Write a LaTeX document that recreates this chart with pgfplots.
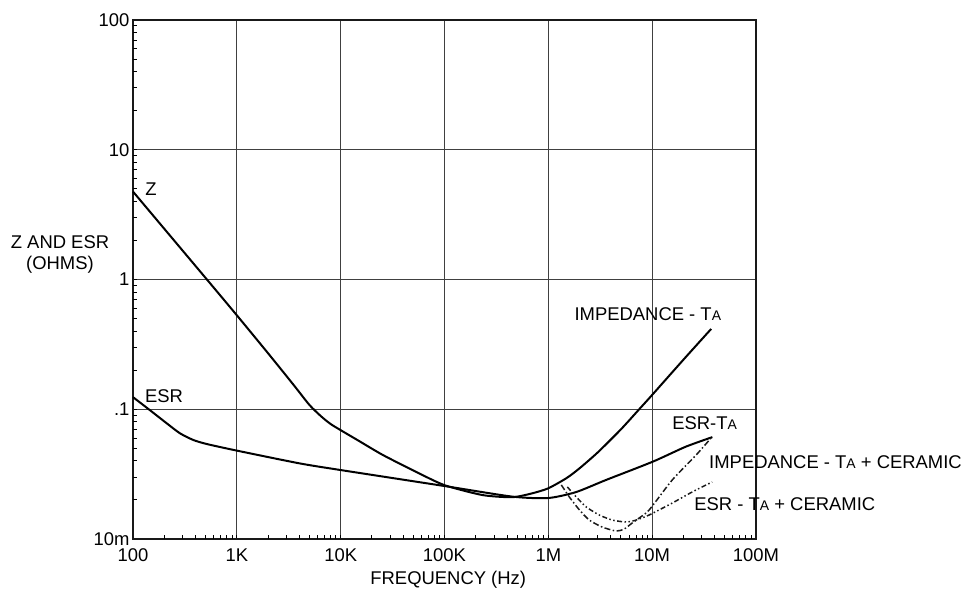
\documentclass[border=0pt]{standalone}
\usepackage{pgfplots}
\pgfplotsset{compat=1.18}
\usepackage{fontspec}
\setmainfont{Liberation Sans}
\newcommand{\sA}{{\fontsize{14}{16}\selectfont A}}
\newcommand{\lf}{\fontsize{18.5}{21}\selectfont}
\begin{document}
\begin{tikzpicture}
\useasboundingbox (-133bp,-53bp) rectangle (835bp,539bp);
\begin{axis}[
  at={(0,0)}, anchor=south west, scale only axis,
  width=623bp, height=519bp,
  xmode=log, ymode=log,
  xmin=100, xmax=1e8, ymin=0.01, ymax=100,
  xtick={100,1000,10000,100000,1000000,10000000,100000000},
  xticklabels={100,1K,10K,100K,1M,10M,100M},
  ytick={0.01,0.1,1,10,100},
  yticklabels={10m,.1,1,10,100},
  extra x ticks={200,300,400,500,600,700,800,900,
    2000,3000,4000,5000,6000,7000,8000,9000,
    20000,30000,40000,50000,60000,70000,80000,90000,
    200000,300000,400000,500000,600000,700000,800000,900000,
    2000000,3000000,4000000,5000000,6000000,7000000,8000000,9000000,
    20000000,30000000,40000000,50000000,60000000,70000000,80000000,90000000},
  extra x tick labels={},
  extra x tick style={grid=none},
  extra y ticks={0.02,0.03,0.04,0.05,0.06,0.07,0.08,0.09,
    0.2,0.3,0.4,0.5,0.6,0.7,0.8,0.9,
    2,3,4,5,6,7,8,9,
    20,30,40,50,60,70,80,90},
  extra y tick labels={},
  extra y tick style={grid=none},
  grid=major,
  major grid style={black!75, line width=1.1pt},
  axis line style={line width=1.5pt, black!90},
  tick pos=left,
  tick align=inside,
  major tick length=4bp,
  tick style={black, line width=1pt},
  tick label style={font=\lf},
  xticklabel style={yshift=-6bp},
  every axis x label/.style={at={(rel axis cs:0.506,0)}, yshift=-41bp, anchor=center, font=\lf},
  every axis y label/.style={at={(rel axis cs:0,0.549)}, xshift=-73bp, anchor=center, align=center, font=\lf},
  xlabel={FREQUENCY (Hz)},
  ylabel={Z AND ESR\\(OHMS)},
  clip=false,
]
% Z and Z-Ta
\addplot[black, line width=2pt, smooth, tension=0.4] coordinates {
 (100,4.76) (515,1.0) (1000,0.53) (2000,0.27) (3500,0.155) (5000,0.108)
 (6500,0.088) (8000,0.077) (10000,0.069) (15000,0.057) (25500,0.0444)
 (53000,0.033) (100000,0.026) (233000,0.0218) (450000,0.0210)
 (700000,0.0225) (1.0e6,0.0246) (1.5e6,0.0295) (2.0e6,0.0351) (3.0e6,0.0466)
 (5.0e6,0.070) (7.5e6,0.100) (1.0e7,0.129) (2.0e7,0.241) (3.7e7,0.416)
};
% ESR and ESR-Ta
\addplot[black, line width=2pt, smooth, tension=0.4] coordinates {
 (100,0.124) (145,0.0986) (211,0.078) (283,0.0653) (380,0.058) (511,0.054)
 (1000,0.048) (4000,0.0383) (10000,0.034) (100000,0.0256) (454000,0.0212)
 (1.0e6,0.0207) (1.85e6,0.0230) (3.59e6,0.0285) (1.01e7,0.0394) (2.1e7,0.0514) (3.8e7,0.061)
};
% dash-dot curve
\addplot[black!90, line width=1.5pt, smooth, tension=0.4,
  dash pattern=on 6pt off 2.5pt on 1.5pt off 2.5pt] coordinates {
 (1.334e6,0.0261) (1.592e6,0.0211) (1.987e6,0.0168) (2.478e6,0.0140) (3.305e6,0.01236)
 (4.505e6,0.01152) (5.38e6,0.01194) (6.42e6,0.01328) (7.5e6,0.01452) (9.36e6,0.01675)
 (1.56e7,0.0285) (2.65e7,0.0444) (3.69e7,0.060)
};
% dash-dot-dot curve
\addplot[black!90, line width=1.5pt, smooth, tension=0.4,
  dash pattern=on 5pt off 2.5pt on 1.5pt off 2.5pt on 1.5pt off 2.5pt] coordinates {
 (1.524e6,0.0252) (1.858e6,0.0211) (2.317e6,0.01766) (3.09e6,0.01532) (4.12e6,0.0140)
 (5.62e6,0.01352) (7.02e6,0.0140) (9.36e6,0.01532) (1.56e7,0.01892) (2.42e7,0.0230)
 (3.78e7,0.0275)
};
\node[font=\lf, inner sep=0pt] at (axis cs:149,4.99) {Z};
\node[font=\lf, inner sep=0pt] at (axis cs:199,0.126) {ESR};
\node[font=\lf, inner sep=0pt, anchor=west] at (axis cs:1.78e6,0.542) {IMPEDANCE - T\sA};
\node[font=\lf, inner sep=0pt, anchor=west] at (axis cs:1.556e7,0.0784) {ESR-T\sA};
\node[font=\lf, inner sep=0pt, anchor=west] at (axis cs:3.53e7,0.0392) {IMPEDANCE - T\sA{} + CERAMIC};
\node[font=\lf, inner sep=0pt, anchor=west] at (axis cs:2.54e7,0.0186) {ESR - T\sA{} + CERAMIC};
\end{axis}
\end{tikzpicture}
\end{document}
